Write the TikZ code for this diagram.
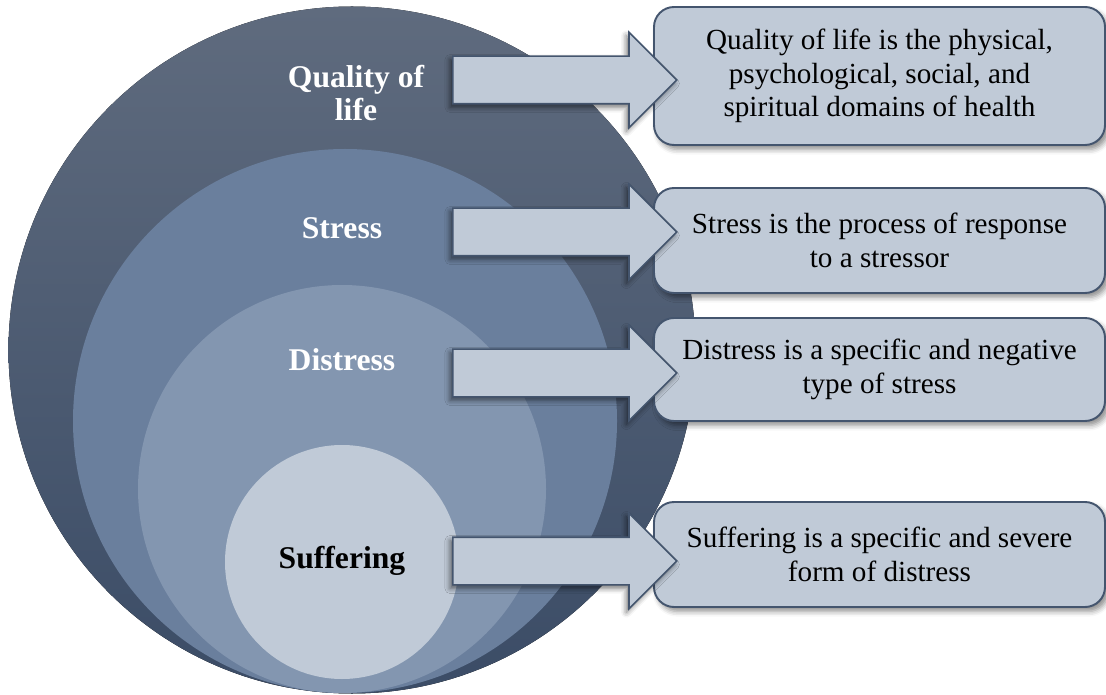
\documentclass[tikz,border=0pt]{standalone}
\usepackage{fontspec}
\setmainfont{Liberation Serif}
\usetikzlibrary{shapes.arrows,shadows.blur}

\definecolor{qolTop}{HTML}{5F6B7E}
\definecolor{qolBottom}{HTML}{3B4C66}
\definecolor{stressFill}{HTML}{6A7F9D}
\definecolor{distressFill}{HTML}{8396B0}
\definecolor{paleFill}{HTML}{C0CAD7}
\definecolor{edgeDark}{HTML}{44556E}

\begin{document}
\begin{tikzpicture}[
	layer/.style={font=\fontsize{18}{18.5}\selectfont\bfseries, text=white, align=center},
	defbox/.style={draw=edgeDark, line width=1.1pt, fill=paleFill, rounded corners=0.4cm,
		minimum width=9.02cm, align=center, font=\fontsize{16.6}{19.2}\selectfont,
		blur shadow={shadow xshift=2pt, shadow yshift=-2.5pt, shadow blur radius=3pt, shadow opacity=45}},
	blockarrow/.style={single arrow, draw=edgeDark, line width=0.9pt, fill=paleFill,
		inner xsep=0pt, inner ysep=0.46cm, single arrow head extend=0.48cm,
		minimum height=4.48cm, anchor=tail,
		blur shadow={shadow xshift=-1.5pt, shadow yshift=-2pt, shadow blur radius=3pt, shadow opacity=55}}
]
	\useasboundingbox (0,0) rectangle (22.12,13.88);

	% nested circles, all resting near the bottom
	\fill[top color=qolTop, bottom color=qolBottom] (7.04,6.88) circle (6.87);
	\fill[stressFill] (6.90,5.46) circle (5.44);
	\fill[distressFill] (6.84,4.10) circle (4.08);
	\fill[paleFill] (6.84,2.64) circle (2.34);

	\node[layer] (qolLabel) at (7.12,12.02) {Quality of\\life};
	\node[layer] (stressLabel) at (6.84,9.32) {Stress};
	\node[layer] (distressLabel) at (6.84,6.68) {Distress};
	\node[layer, text=black] (sufferingLabel) at (6.84,2.66) {Suffering};

	% definitions on the right
	\node[defbox, minimum height=2.76cm] (qolDef) at (17.59,12.36)
		{Quality of life is the physical,\\psychological, social, and\\spiritual domains of health};
	\node[defbox, minimum height=2.10cm] (stressDef) at (17.59,9.07)
		{Stress is the process of response\\to a stressor};
	\node[defbox, minimum height=2.06cm] (distressDef) at (17.59,6.49)
		{Distress is a specific and negative\\type of stress};
	\node[defbox, minimum height=2.10cm] (sufferingDef) at (17.59,2.79)
		{Suffering is a specific and severe\\form of distress};

	% block arrows, drawn over the boxes
	\node[blockarrow] (qolArrow) at (9.04,12.28) {};
	\node[blockarrow] (stressArrow) at (9.04,9.24) {};
	\node[blockarrow] (distressArrow) at (9.04,6.42) {};
	\node[blockarrow] (sufferingArrow) at (9.04,2.66) {};
\end{tikzpicture}
\end{document}
